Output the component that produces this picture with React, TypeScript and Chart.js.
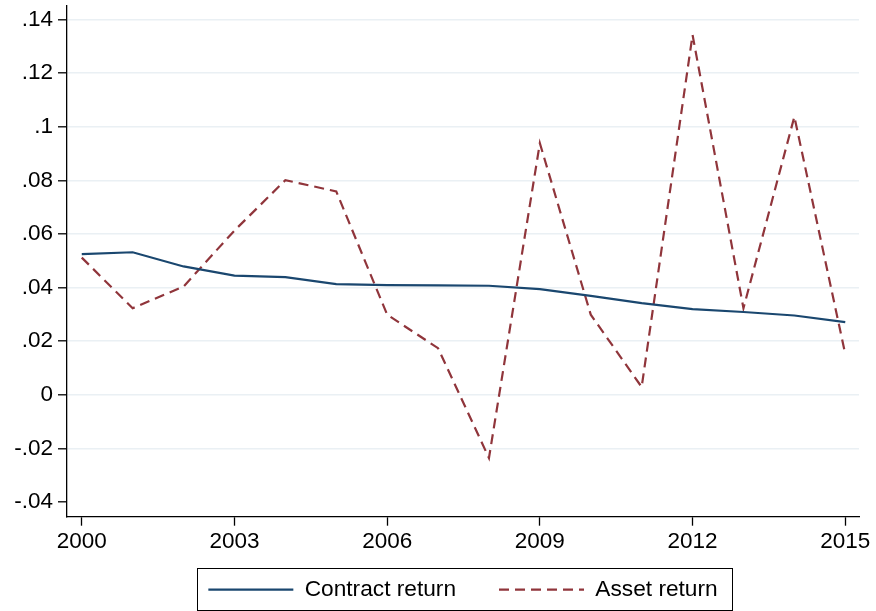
import React, { useEffect, useRef } from "react";
import { Chart, registerables } from "chart.js";

Chart.register(...registerables);

const years = [2000, 2001, 2002, 2003, 2004, 2005, 2006, 2007, 2008, 2009, 2010, 2011, 2012, 2013, 2014, 2015];
const contractReturn = [0.0525, 0.0532, 0.0479, 0.0445, 0.0439, 0.0413, 0.0409, 0.0408, 0.0407, 0.0394, 0.0369, 0.0342, 0.032, 0.0309, 0.0296, 0.0271];
const assetReturn = [0.0512, 0.0323, 0.0404, 0.0613, 0.0801, 0.0759, 0.0299, 0.0174, -0.0236, 0.0939, 0.0299, 0.0029, 0.1343, 0.0323, 0.1038, 0.0152];
const seriesNames = ["Contract return", "Asset return"];
const xTickValues = [2000, 2003, 2006, 2009, 2012, 2015];
const yTickValues = [-0.04, -0.02, 0, 0.02, 0.04, 0.06, 0.08, 0.1, 0.12, 0.14];
const yTickLabels = ["-.04", "-.02", "0", ".02", ".04", ".06", ".08", ".1", ".12", ".14"];

const FONT = "'Liberation Sans', Arial, sans-serif";

export default function App() {
  const ref = useRef<HTMLCanvasElement | null>(null);
  useEffect(() => {
    if (!ref.current) return;
    const legendBox = {
      id: "legendBox",
      afterDraw(chart: any) {
        const hb = chart.legend && chart.legend.legendHitBoxes;
        if (!hb || !hb.length) return;
        const first = hb[0];
        const last = hb[hb.length - 1];
        const cy = first.top + first.height / 2;
        const left = first.left - 11;
        const right = last.left + last.width + 15;
        const c = chart.ctx;
        c.save();
        c.strokeStyle = "#000";
        c.lineWidth = 1;
        c.setLineDash([]);
        c.strokeRect(Math.round(left) + 0.5, Math.round(cy - 22) + 0.5, Math.round(right - left), 42);
        c.restore();
      },
    };
    const chart = new Chart(ref.current, {
      type: "line",
      data: {
        datasets: [
          {
            label: seriesNames[0],
            data: years.map((y, i) => ({ x: y, y: contractReturn[i] })),
            borderColor: "#1a476f",
            backgroundColor: "#1a476f",
            borderWidth: 2.2,
            pointRadius: 0,
            tension: 0,
          },
          {
            label: seriesNames[1],
            data: years.map((y, i) => ({ x: y, y: assetReturn[i] })),
            borderColor: "#90353b",
            backgroundColor: "#90353b",
            borderWidth: 2.2,
            borderDash: [10, 6],
            pointRadius: 0,
            tension: 0,
          },
        ],
      },
      options: {
        animation: false,
        responsive: false,
        devicePixelRatio: 1,
        layout: { padding: { top: 6, right: 17, left: 0, bottom: 0 } },
        plugins: {
          tooltip: { enabled: false },
          legend: {
            display: true,
            position: "bottom",
            fullSize: false,
            labels: {
              usePointStyle: true,
              pointStyle: "line",
              pointStyleWidth: 85,
              boxHeight: 22,
              padding: 43,
              color: "#000",
              font: { family: FONT, size: 22.7 },
              generateLabels: (ch: any) => {
                const items = Chart.defaults.plugins.legend.labels.generateLabels(ch);
                return items.map((it: any) => {
                  const ds: any = ch.data.datasets[it.datasetIndex];
                  return {
                    ...it,
                    strokeStyle: ds.borderColor,
                    lineWidth: ds.borderWidth,
                    lineDash: ds.borderDash || [],
                    lineDashOffset: 0,
                    pointStyle: "line",
                  };
                });
              },
            },
          },
        },
        scales: {
          x: {
            type: "linear",
            min: 1999.71,
            max: 2015.27,
            border: { display: true, color: "#000", width: 1.3 },
            grid: { display: true, drawOnChartArea: false, drawTicks: true, tickLength: 9, tickColor: "#000", tickWidth: 1.3 },
            ticks: {
              color: "#000",
              font: { family: FONT, size: 22.5 },
              padding: 3,
              maxRotation: 0,
              callback: (v: any) => String(v),
            },
            afterBuildTicks: (s: any) => {
              s.ticks = xTickValues.map((v) => ({ value: v }));
            },
            afterFit: (s: any) => {
              s.height = 611 - 516.7 - 75.7;
              s.paddingLeft = 0;
              s.paddingRight = 0;
              s._computeLabelArea = () => undefined;
            },
          },
          y: {
            type: "linear",
            min: -0.0455,
            max: 0.1451,
            border: { display: true, color: "#000", width: 1.3 },
            grid: {
              display: true,
              drawOnChartArea: true,
              drawTicks: true,
              tickLength: 9,
              tickColor: "#000",
              tickWidth: 1.3,
              lineWidth: 1.6,
              color: (ctx: any) =>
                ctx.tick && Math.abs(ctx.tick.value - yTickValues[0]) < 1e-9 ? "rgba(0,0,0,0)" : "#eaf0f4",
            },
            ticks: {
              color: "#000",
              font: { family: FONT, size: 22.5 },
              padding: 5,
              callback: (v: any) => {
                const i = yTickValues.findIndex((t) => Math.abs(t - v) < 1e-9);
                return i >= 0 ? yTickLabels[i] : "";
              },
            },
            afterBuildTicks: (s: any) => {
              s.ticks = yTickValues.map((v) => ({ value: v }));
            },
            afterFit: (s: any) => {
              s.width = 67;
              s.paddingTop = 0;
              s.paddingBottom = 0;
            },
          },
        },
      },
      plugins: [legendBox],
    } as any);
    return () => chart.destroy();
  }, []);
  return (
    <div style={{ position: "fixed", left: 0, top: 0, width: 876, height: 611, background: "#fff" }}>
      <canvas ref={ref} width={876} height={611} style={{ width: 876, height: 611 }} />
    </div>
  );
}
